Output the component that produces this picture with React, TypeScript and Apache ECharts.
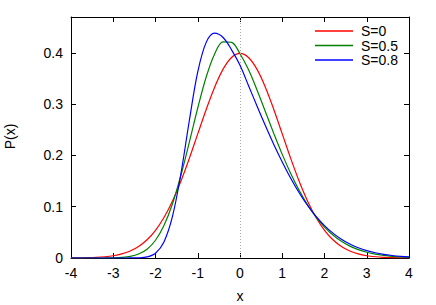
import React, { useEffect, useRef } from "react";
import * as echarts from "echarts";

const xs = [-4, -3.8, -3.6, -3.4, -3.2, -3, -2.8, -2.6, -2.4, -2.2, -2, -1.8, -1.6, -1.4, -1.2, -1, -0.8, -0.6, -0.4, -0.2, 0, 0.2, 0.4, 0.6, 0.8, 1, 1.2, 1.4, 1.6, 1.8, 2, 2.2, 2.4, 2.6, 2.8, 3, 3.2, 3.4, 3.6, 3.8, 4];

const s0 = [0.0001, 0.0003, 0.0006, 0.0012, 0.0024, 0.0044, 0.0079, 0.0136, 0.0224, 0.0355, 0.054, 0.079, 0.1109, 0.1497, 0.1942, 0.242, 0.2897, 0.3332, 0.3683, 0.391, 0.3989, 0.391, 0.3683, 0.3332, 0.2897, 0.242, 0.1942, 0.1497, 0.1109, 0.079, 0.054, 0.0355, 0.0224, 0.0136, 0.0079, 0.0044, 0.0024, 0.0012, 0.0006, 0.0003, 0.0001];

const s05 = [0, 0, 0, 0, 0.0001, 0.0004, 0.0012, 0.0032, 0.0078, 0.0172, 0.0346, 0.0632, 0.1054, 0.1609, 0.2256, 0.2925, 0.353, 0.398, 0.4215, 0.4205, 0.3984, 0.3674, 0.3282, 0.2856, 0.2428, 0.2021, 0.1649, 0.1319, 0.1035, 0.0797, 0.0603, 0.0447, 0.0325, 0.0232, 0.0163, 0.0112, 0.0075, 0.005, 0.0032, 0.0021, 0.0013];

const s08 = [0, 0, 0, 0, 0, 0, 0, 0.0001, 0.0004, 0.0022, 0.0094, 0.0312, 0.0805, 0.1637, 0.2677, 0.3629, 0.4205, 0.4385, 0.43, 0.406, 0.376, 0.3365, 0.2968, 0.2582, 0.2213, 0.1873, 0.1556, 0.1273, 0.1024, 0.0811, 0.0632, 0.0485, 0.0366, 0.0272, 0.0199, 0.0143, 0.0102, 0.0071, 0.0049, 0.0033, 0.0022];

const seriesNames = ["S=0", "S=0.5", "S=0.8"];
const colors = ["#ff0000", "#008000", "#0000ff"];
const xTitle = "x";
const yTitle = "P(x)";

const FONT = "'Liberation Sans', Arial, sans-serif";

export default function App() {
  const ref = useRef<HTMLDivElement>(null);
  useEffect(() => {
    if (!ref.current) return;
    document.body.style.margin = "0";
    document.body.style.overflow = "hidden";
    const chart = echarts.init(ref.current, undefined, { renderer: "svg" });
    const pair = (arr: number[]) => xs.map((x, i) => [x, arr[i]]);
    const datasets = [s0, s05, s08];
    const axisCommon = {
      axisLine: { show: true, onZero: false, lineStyle: { color: "#000", width: 1 } },
      axisTick: { show: true, inside: true, length: 5, lineStyle: { color: "#000" } },
      splitLine: { show: false },
    };
    chart.setOption({
      animation: false,
      textStyle: { fontFamily: FONT },
      grid: { left: 71, right: 27, top: 17, bottom: 47, containLabel: false, outerBoundsMode: "none" },
      graphic: [
        {
          type: "text",
          x: 240,
          y: 296,
          style: { text: xTitle, font: `14px ${FONT}`, fill: "#000", align: "center", verticalAlign: "middle" },
        },
        {
          type: "text",
          x: 10,
          y: 136.5,
          rotation: Math.PI / 2,
          style: { text: yTitle, font: `14px ${FONT}`, fill: "#000", align: "center", verticalAlign: "middle" },
        },
      ],
      legend: {
        orient: "vertical",
        left: 310,
        top: 19,
        icon: "rect",
        itemWidth: 38,
        itemHeight: 1.5,
        itemGap: 0.5,
        textStyle: { fontFamily: FONT, fontSize: 14, color: "#000", lineHeight: 14, padding: [0, 0, 0, 3] },
        data: seriesNames,
      },
      xAxis: [
        {
          type: "value",
          min: -4,
          max: 4,
          interval: 1,
          axisLabel: { fontFamily: FONT, fontSize: 14, color: "#000", margin: 8 },
          ...axisCommon,
        },
        {
          type: "value",
          min: -4,
          max: 4,
          interval: 1,
          position: "top",
          axisLabel: { show: false },
          ...axisCommon,
        },
      ],
      yAxis: [
        {
          type: "value",
          min: 0,
          max: 0.47,
          interval: 0.1,
          axisLabel: {
            fontFamily: FONT,
            fontSize: 14,
            color: "#000",
            margin: 8,
            showMaxLabel: false,
            formatter: (v: number) => (Math.abs(v) < 1e-9 ? "0" : String(Math.round(v * 10) / 10)),
          },
          ...axisCommon,
        },
        {
          type: "value",
          min: 0,
          max: 0.47,
          interval: 0.1,
          position: "right",
          axisLabel: { show: false },
          ...axisCommon,
        },
      ],
      series: datasets.map((d, i) => ({
        name: seriesNames[i],
        type: "line",
        data: pair(d),
        smooth: 0.35,
        symbol: "none",
        showSymbol: false,
        lineStyle: { color: colors[i], width: 1.2 },
        itemStyle: { color: colors[i] },
        z: 3 + i,
        ...(i === 0
          ? {
              markLine: {
                silent: true,
                symbol: "none",
                label: { show: false },
                lineStyle: { color: "#aaaaaa", type: [1, 2], width: 1 },
                data: [{ xAxis: 0 }],
              },
            }
          : {}),
      })),
    });
    return () => chart.dispose();
  }, []);
  return <div ref={ref} style={{ width: 436, height: 305 }} />;
}
